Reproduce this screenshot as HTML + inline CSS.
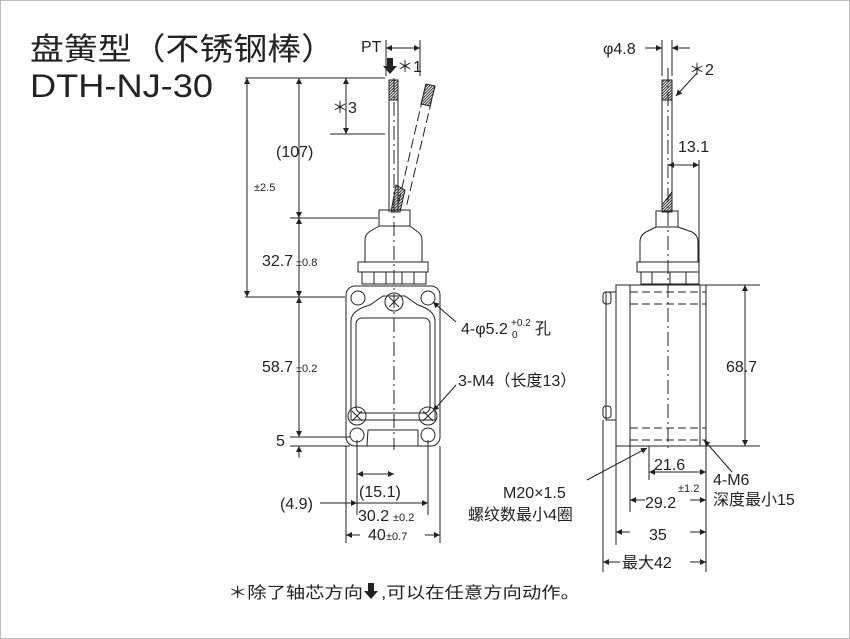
<!DOCTYPE html>
<html><head><meta charset="utf-8"><style>
html,body{margin:0;padding:0;background:#fff}
svg{display:block}
text{font-family:"Liberation Sans","Noto Sans CJK SC",sans-serif;fill:#222}
</style></head><body>
<svg width="850" height="639" viewBox="0 0 850 639" xmlns="http://www.w3.org/2000/svg">
<defs>
<marker id="a" viewBox="0 0 10 10" refX="10" refY="5" markerWidth="9" markerHeight="6" orient="auto-start-reverse"><path d="M0,0 L10,5 L0,10 z" fill="#222"/></marker>
<pattern id="h" width="2" height="2" patternUnits="userSpaceOnUse" patternTransform="rotate(45)"><rect width="1" height="2" fill="#333"/></pattern>
</defs>
<rect x="0.5" y="0.5" width="849" height="638" fill="#fff" stroke="#bbb"/>
<text x="30" y="60" font-size="31" textLength="305" lengthAdjust="spacingAndGlyphs">盘簧型（不锈钢棒）</text>
<text x="30" y="97" font-size="32" textLength="183" lengthAdjust="spacingAndGlyphs">DTH-NJ-30</text>

<g stroke="#222" stroke-width="1" fill="none">
<!-- front view rod -->
<line x1="389" y1="82" x2="389" y2="212"/><line x1="398" y1="82" x2="398" y2="212"/>
<rect x="389" y="80" width="9" height="20" fill="url(#h)"/>
<line x1="394" y1="78" x2="394" y2="450" stroke-dasharray="14,4,2,4"/>
<!-- tilted rod -->
<line x1="426" y1="84" x2="398" y2="205" stroke-dasharray="10,4"/>
<line x1="435" y1="86" x2="406" y2="208" stroke-dasharray="10,4"/>
<polygon points="426,84 435,86 430,106 421,104" fill="url(#h)"/>
<polygon points="396,185 405,190 400,212 391,212" fill="url(#h)"/>
<!-- cap -->
<rect x="379" y="210" width="31" height="16"/>
<path d="M379,226 L369,232 Q365,235 365,240 L365,262 L422,262 L422,240 Q422,235 418,232 L410,226"/>
<rect x="358" y="262" width="70" height="10"/>
<rect x="362" y="272" width="64" height="12"/>
<line x1="374" y1="272" x2="374" y2="284"/><line x1="386" y1="272" x2="386" y2="284"/><line x1="402" y1="272" x2="402" y2="284"/><line x1="414" y1="272" x2="414" y2="284"/>
<!-- body -->
<rect x="346" y="286" width="94" height="160" rx="9"/>
<path d="M351,320 Q352,310 370,305 L383,296 L405,296 L418,305 Q434,310 435,320 L435,420 L351,420 Z"/>
<rect x="356" y="318" width="74" height="95" rx="6"/>
<circle cx="358" cy="298" r="7"/><circle cx="428" cy="298" r="7"/>
<circle cx="394" cy="302" r="9"/><line x1="389" y1="297" x2="399" y2="307"/><line x1="399" y1="297" x2="389" y2="307"/>
<circle cx="357" cy="416" r="9"/><line x1="352" y1="411" x2="362" y2="421"/><line x1="362" y1="411" x2="352" y2="421"/>
<circle cx="428" cy="416" r="9"/><line x1="423" y1="411" x2="433" y2="421"/><line x1="433" y1="411" x2="423" y2="421"/>
<circle cx="357" cy="435" r="7"/><circle cx="428" cy="435" r="7"/>
<path d="M367,446 L368,430 L418,430 L418,446"/>
<!-- front dims -->
<line x1="245" y1="78" x2="385" y2="78"/>
<line x1="245" y1="297" x2="345" y2="297"/>
<line x1="290" y1="218" x2="378" y2="218"/>
<line x1="330" y1="134" x2="385" y2="134"/>
<line x1="290" y1="437" x2="350" y2="437"/>
<line x1="290" y1="446" x2="350" y2="446"/>
<line x1="247" y1="78" x2="247" y2="297" marker-start="url(#a)" marker-end="url(#a)"/>
<line x1="299" y1="78" x2="299" y2="218" marker-start="url(#a)" marker-end="url(#a)"/>
<line x1="299" y1="218" x2="299" y2="297" marker-start="url(#a)" marker-end="url(#a)"/>
<line x1="299" y1="297" x2="299" y2="437" marker-start="url(#a)" marker-end="url(#a)"/>
<line x1="299" y1="458" x2="299" y2="446" marker-end="url(#a)"/>
<line x1="346" y1="78" x2="346" y2="134" marker-start="url(#a)" marker-end="url(#a)"/>
<line x1="386" y1="40" x2="386" y2="76"/><line x1="420" y1="40" x2="420" y2="76"/>
<line x1="386" y1="48" x2="420" y2="48" marker-start="url(#a)" marker-end="url(#a)"/>
<line x1="346" y1="446" x2="346" y2="543"/><line x1="440" y1="446" x2="440" y2="543"/>
<line x1="357" y1="440" x2="357" y2="515"/><line x1="428" y1="440" x2="428" y2="515"/>
<line x1="357" y1="474" x2="394" y2="474" marker-start="url(#a)" marker-end="url(#a)"/>
<line x1="320" y1="503" x2="357" y2="503" marker-end="url(#a)"/>
<line x1="357" y1="503" x2="428" y2="503" marker-end="url(#a)"/>
<line x1="346" y1="535" x2="360" y2="535" marker-start="url(#a)"/>
<line x1="425" y1="535" x2="440" y2="535" marker-end="url(#a)"/>
<line x1="456" y1="322" x2="433" y2="302" marker-end="url(#a)"/>
<line x1="456" y1="385" x2="433" y2="411" marker-end="url(#a)"/>

<!-- side view -->
<line x1="662" y1="80" x2="662" y2="212"/><line x1="672" y1="80" x2="672" y2="212"/>
<rect x="662" y="80" width="10" height="20" fill="url(#h)"/>
<polygon points="662,205 672,192 672,212 662,212" fill="url(#h)"/>
<line x1="668" y1="68" x2="668" y2="450" stroke-dasharray="14,4,2,4"/>
<rect x="656" y="211" width="22" height="16"/>
<path d="M656,227 L646,232 Q640,235 640,242 L640,262 L698,262 L698,242 Q698,235 692,232 L678,227"/>
<rect x="637" y="262" width="62" height="10"/>
<rect x="641" y="272" width="58" height="12"/>
<line x1="652" y1="272" x2="652" y2="284"/><line x1="670" y1="272" x2="670" y2="284"/><line x1="686" y1="272" x2="686" y2="284"/>
<rect x="616" y="285" width="90" height="161"/>
<line x1="630" y1="285" x2="630" y2="446"/>
<rect x="606" y="292" width="10" height="128"/>
<rect x="603" y="292" width="8" height="12" rx="3"/>
<rect x="603" y="406" width="8" height="12" rx="3"/>
<g stroke-dasharray="8,4">
<line x1="630" y1="292" x2="706" y2="292"/><line x1="630" y1="304" x2="706" y2="304"/>
<line x1="630" y1="428" x2="706" y2="428"/><line x1="630" y1="440" x2="706" y2="440"/>
</g>
<line x1="700" y1="285" x2="700" y2="446"/>
<line x1="700" y1="285" x2="760" y2="285"/><line x1="700" y1="446" x2="760" y2="446"/>
<line x1="745" y1="285" x2="745" y2="446" marker-start="url(#a)" marker-end="url(#a)"/>
<line x1="662" y1="40" x2="662" y2="76"/><line x1="672" y1="40" x2="672" y2="76"/>
<line x1="645" y1="48" x2="662" y2="48" marker-end="url(#a)"/>
<line x1="690" y1="48" x2="672" y2="48" marker-end="url(#a)"/>
<line x1="697" y1="73" x2="676" y2="96" marker-end="url(#a)"/>
<line x1="699" y1="160" x2="699" y2="285"/>
<line x1="668" y1="165" x2="699" y2="165" marker-start="url(#a)" marker-end="url(#a)"/>
<line x1="649" y1="446" x2="649" y2="480"/>
<line x1="630" y1="446" x2="630" y2="512"/>
<line x1="616" y1="446" x2="616" y2="545"/>
<line x1="603" y1="420" x2="603" y2="572"/>
<line x1="706" y1="446" x2="706" y2="572"/>
<line x1="649" y1="472" x2="706" y2="472" marker-start="url(#a)" marker-end="url(#a)"/>
<line x1="630" y1="500" x2="645" y2="500" marker-start="url(#a)"/>
<line x1="690" y1="500" x2="706" y2="500" marker-end="url(#a)"/>
<line x1="616" y1="532" x2="630" y2="532" marker-start="url(#a)"/>
<line x1="690" y1="532" x2="706" y2="532" marker-end="url(#a)"/>
<line x1="603" y1="562" x2="620" y2="562" marker-start="url(#a)"/>
<line x1="690" y1="562" x2="706" y2="562" marker-end="url(#a)"/>
<line x1="587" y1="480" x2="647" y2="448" marker-end="url(#a)"/>
<line x1="732" y1="472" x2="704" y2="440" marker-end="url(#a)"/>
</g>
<!-- PT arrow -->
<path d="M387,58 h6 v8 h4 l-7,8 l-7,-8 h4z" fill="#222"/>

<g font-size="16">
<text x="361" y="52">PT</text>
<text x="397" y="72">＊1</text>
<text x="332" y="113">＊3</text>
<text x="276" y="157">(107)</text>
<text x="254" y="191" font-size="11">±2.5</text>
<text x="262" y="266">32.7</text><text x="296" y="266" font-size="11">±0.8</text>
<text x="262" y="372">58.7</text><text x="296" y="372" font-size="11">±0.2</text>
<text x="276" y="446">5</text>
<text x="461" y="334">4-φ5.2</text><text x="511" y="326" font-size="10">+0.2</text><text x="512" y="338" font-size="10">0</text><text x="535" y="334">孔</text>
<text x="458" y="386">3-M4（长度13）</text>
<text x="359" y="497">(15.1)</text>
<text x="280" y="509">(4.9)</text>
<text x="358" y="521">30.2</text><text x="393" y="521" font-size="11">±0.2</text>
<text x="368" y="540">40</text><text x="386" y="540" font-size="11">±0.7</text>
<text x="603" y="54">φ4.8</text>
<text x="689" y="75">＊2</text>
<text x="678" y="152">13.1</text>
<text x="726" y="372">68.7</text>
<text x="654" y="470">21.6</text>
<text x="678" y="492" font-size="11">±1.2</text>
<text x="645" y="508">29.2</text>
<text x="649" y="540">35</text>
<text x="622" y="568">最大42</text>
<text x="713" y="485">4-M6</text>
<text x="713" y="505">深度最小15</text>
<text x="503" y="498">M20×1.5</text>
<text x="468" y="520">螺纹数最小4圈</text>
<text x="228" y="598" textLength="135" lengthAdjust="spacingAndGlyphs">＊除了轴芯方向</text>
<text x="381" y="598" textLength="199" lengthAdjust="spacingAndGlyphs">,可以在任意方向动作。</text>
</g>
<path d="M368,583 h6 v8 h4 l-7,8 l-7,-8 h4z" fill="#222"/>
</svg>
</body></html>
